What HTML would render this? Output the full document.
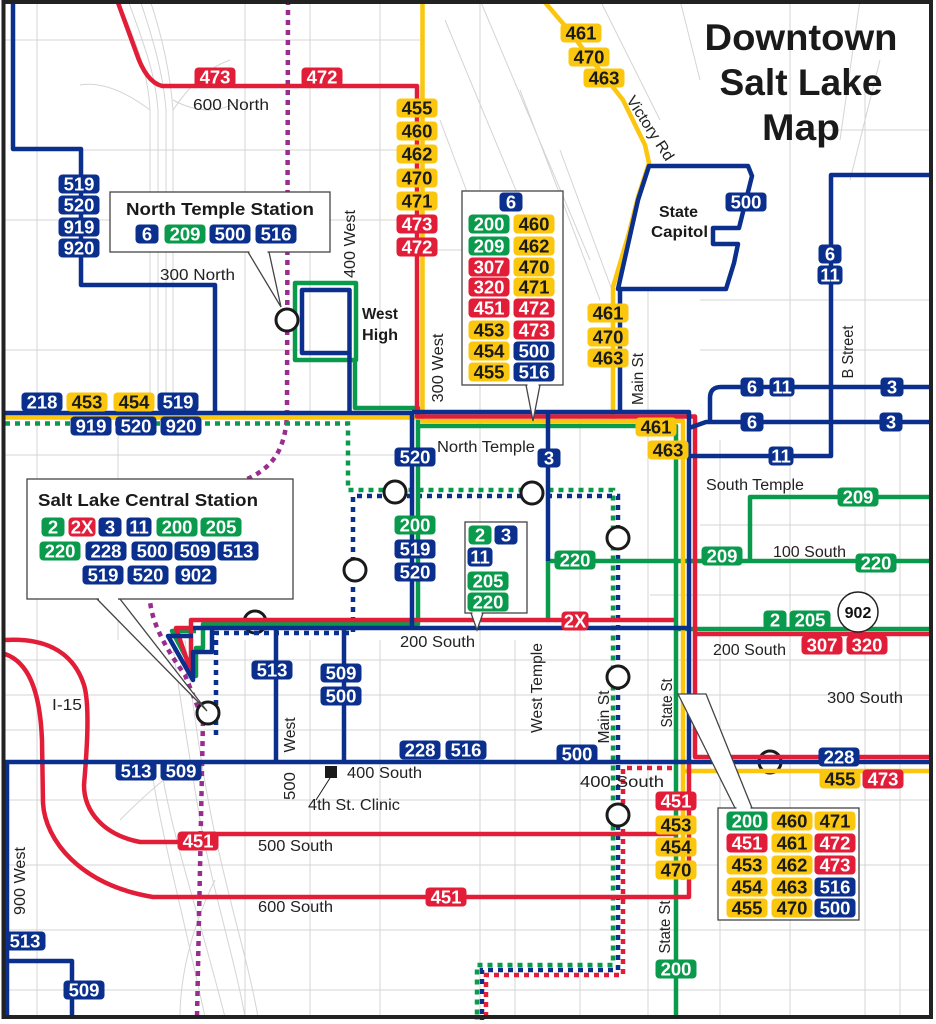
<!DOCTYPE html>
<html><head><meta charset="utf-8"><style>
html,body{margin:0;padding:0;background:#fff}
svg{display:block}
.lb text{font:bold 18.5px "Liberation Sans",sans-serif;text-anchor:middle;fill:#fff}
.B rect{fill:#0b2f8c}.R rect{fill:#e21d38}.G rect{fill:#0a9a4c}.Y rect{fill:#fbc60e}.Y text{fill:#1a1a1a}
.st{font:15.5px "Liberation Sans",sans-serif;fill:#222}
.bd{font-weight:bold;fill:#1a1a1a}
.gr{stroke:#d4d4d4;stroke-width:1;fill:none}
.rt{fill:none;stroke-width:4.5;stroke-linejoin:round}
.bl{stroke:#0b2f8c}.rd{stroke:#e21d38}.ye{stroke:#fbc60e}.gn{stroke:#0a9a4c}
.dt{fill:none;stroke-width:4.5;stroke-dasharray:5 5}
.ci{fill:#fff;stroke:#1a1a1a;stroke-width:3}
.co{fill:#fff;stroke:#444;stroke-width:1.3}
</style></head><body>
<svg width="936" height="1024" viewBox="0 0 936 1024" xmlns="http://www.w3.org/2000/svg">
<rect x="0" y="0" width="936" height="1024" fill="#fff"/>
<!-- street grid -->
<path class="gr" d="M37,0V1017 M118,413V640 M245,0V413 M245,640V1017 M310,0V413 M310,640V1017 M380,0V413 M380,640V1017 M480,0V1017 M515,640V1017 M580,413V1017 M648,290V1017 M720,440V1017 M790,0V1017 M865,90V1017 M900,420V1017
M5,40H420 M81,150H413 M5,220H413 M5,350H300 M5,455H400 M700,525H930 M650,595H930 M5,660H930 M5,695H930 M5,730H930 M5,800H930 M5,865H930 M5,930H930 M5,990H930 M430,250H470 M700,300H930 M700,350H930 M800,130H930"/>
<path class="gr" d="M445,20L520,200 M480,0L590,260 M520,90L600,300 M560,150L612,290 M600,0L660,120 M440,120L470,200 M680,0L700,80 M860,0L840,140 M880,60L850,180"/>
<path class="gr" d="M118,0C135,40 148,70 150,110V413 M128,0C142,40 155,70 158,110V413 M140,0C150,30 163,70 166,110V413 M150,0C160,30 170,70 173,110V413 M173,110Q200,70 230,60 M150,110Q110,80 80,85 M173,100Q210,120 240,100
M172,640C180,700 190,760 200,820C215,900 235,960 245,1017 M185,640C192,700 200,760 212,820C228,900 248,960 258,1017 M160,760C170,830 195,900 225,1017 M150,760C160,830 180,900 205,1017 M215,880C190,930 180,980 180,1017 M120,820Q160,780 190,760"/>
<!-- back circles -->
<circle class="ci" cx="255" cy="622" r="11"/>
<circle class="ci" cx="770" cy="762" r="11"/>
<!-- dotted -->
<path class="dt" stroke="#9b2c8f" d="M288,0L287,415C285,455 268,470 245,480C200,500 150,560 150,600Q152,630 185,675L203,720L197,1017"/>
<path class="dt gn" d="M5,423.5H348V490H613V965H477V1020"/>
<path class="dt bl" d="M216,735V633H353V496H618V970H482V1020"/>
<path class="dt rd" d="M672,768H623V975H486V1020"/>
<!-- green -->
<rect class="rt gn" x="295" y="283" width="61" height="77"/>
<path class="rt gn" d="M355,360V408H418V624H203V648H196V676L172,631H196"/>
<path class="rt gn" d="M418,426H676V1017"/>
<path class="rt gn" d="M548,620V561H930"/>
<path class="rt gn" d="M750,561V497H930"/>
<path class="rt gn" d="M676,629H930"/>
<!-- yellow -->
<path class="rt ye" d="M5,417.5H422"/>
<path class="rt ye" d="M422.5,0V421H683V880"/>
<path class="rt ye" d="M543,0L566,27L623,100L645,145L649,163L638,197L629,233L613,287V421"/>
<path class="rt ye" d="M683,771H930"/>
<!-- red -->
<path class="rt rd" d="M117,0L136,52Q146,82 162,86H417V416.5H695V757H930"/>
<path class="rt rd" d="M695,634H930"/>
<path class="rt rd" d="M674,620H191V672L176,628H191"/>
<path class="rt rd" d="M5,640C40,638 72,648 84,685C90,705 87,750 84,785C84,812 104,835 140,842L200,842"/>
<path class="rt rd" d="M205,834H678"/>
<path class="rt rd" d="M5,654C28,662 40,690 42,740L43,803C45,840 80,885 153,897H689V762"/>
<!-- blue -->
<path class="rt bl" d="M13,0V149H81V285H215V413"/>
<path class="rt bl" d="M5,413H412V628"/>
<path class="rt bl" d="M412,412H689V762"/>
<path class="rt bl" d="M620,412V289"/>
<path class="rt bl" d="M618,289L638,200L649,166H748L752,176L739,228H713V244H738L734,263L726,289Z"/>
<rect class="rt bl" x="302" y="290" width="47.5" height="63"/>
<path class="rt bl" d="M349.5,353V413"/>
<path class="rt bl" d="M548,412V561"/>
<path class="rt bl" d="M193,628H689"/>
<path class="rt bl" d="M212,628V652H193V680L168,636H193"/>
<path class="rt bl" d="M276,628V762M344,628V762"/>
<path class="rt bl" d="M5,762H930"/>
<path class="rt bl" d="M7,762V1017M7,961H72V1017"/>
<path class="rt bl" d="M689,428L706,422H930M710,422V398Q710,387 721,387H930M689,456H831V175H930"/>
<!-- front circles -->
<circle class="ci" cx="287" cy="320" r="11"/>
<circle class="ci" cx="395" cy="492" r="11"/>
<circle class="ci" cx="532" cy="493" r="11"/>
<circle class="ci" cx="355" cy="570" r="11"/>
<circle class="ci" cx="618" cy="538" r="11"/>
<circle class="ci" cx="618" cy="677" r="11"/>
<circle class="ci" cx="208" cy="713" r="11"/>
<circle class="ci" cx="618" cy="815" r="11"/>
<!-- callouts -->
<polygon class="co" points="248,252 281,307 269,252"/>
<rect class="co" x="110" y="192" width="220" height="60"/>
<line x1="249.5" y1="252" x2="267.5" y2="252" stroke="#fff" stroke-width="2.5"/>
<polygon class="co" points="97,599 207,711 120,599"/>
<rect class="co" x="27" y="479" width="266" height="120"/>
<line x1="99" y1="599" x2="118" y2="599" stroke="#fff" stroke-width="2.5"/>
<polygon class="co" points="526,385 533,421 540,385"/>
<rect class="co" x="462" y="191" width="101" height="194"/>
<line x1="527.5" y1="385" x2="538.5" y2="385" stroke="#fff" stroke-width="2.5"/>
<polygon class="co" points="471,613 477,630 483,613"/>
<rect class="co" x="465" y="522" width="62" height="91"/>
<line x1="472.5" y1="613" x2="481.5" y2="613" stroke="#fff" stroke-width="2.5"/>
<polygon class="co" points="678,694 706,694 752,808 735,808"/>
<rect class="co" x="718" y="808" width="141" height="112"/>
<line x1="736.5" y1="808" x2="750.5" y2="808" stroke="#fff" stroke-width="2.5"/>
<circle cx="858" cy="612" r="20" fill="#fff" stroke="#222" stroke-width="1.5"/>
<text x="858" y="618" text-anchor="middle" style="font:bold 16px 'Liberation Sans',sans-serif;fill:#111">902</text>
<!-- labels -->
<g class="lb R" transform="translate(215 77)"><rect x="-20.5" y="-9.5" width="41" height="19" rx="4"/><text y="6.5">473</text></g>
<g class="lb R" transform="translate(322 77)"><rect x="-20.5" y="-9.5" width="41" height="19" rx="4"/><text y="6.5">472</text></g>
<g class="lb Y" transform="translate(417 108)"><rect x="-20.5" y="-9.5" width="41" height="19" rx="4"/><text y="6.5">455</text></g>
<g class="lb Y" transform="translate(417 131)"><rect x="-20.5" y="-9.5" width="41" height="19" rx="4"/><text y="6.5">460</text></g>
<g class="lb Y" transform="translate(417 154)"><rect x="-20.5" y="-9.5" width="41" height="19" rx="4"/><text y="6.5">462</text></g>
<g class="lb Y" transform="translate(417 178)"><rect x="-20.5" y="-9.5" width="41" height="19" rx="4"/><text y="6.5">470</text></g>
<g class="lb Y" transform="translate(417 201)"><rect x="-20.5" y="-9.5" width="41" height="19" rx="4"/><text y="6.5">471</text></g>
<g class="lb R" transform="translate(417 224)"><rect x="-20.5" y="-9.5" width="41" height="19" rx="4"/><text y="6.5">473</text></g>
<g class="lb R" transform="translate(417 247)"><rect x="-20.5" y="-9.5" width="41" height="19" rx="4"/><text y="6.5">472</text></g>
<g class="lb B" transform="translate(79 184)"><rect x="-20.5" y="-9.5" width="41" height="19" rx="4"/><text y="6.5">519</text></g>
<g class="lb B" transform="translate(79 205)"><rect x="-20.5" y="-9.5" width="41" height="19" rx="4"/><text y="6.5">520</text></g>
<g class="lb B" transform="translate(79 227)"><rect x="-20.5" y="-9.5" width="41" height="19" rx="4"/><text y="6.5">919</text></g>
<g class="lb B" transform="translate(79 248)"><rect x="-20.5" y="-9.5" width="41" height="19" rx="4"/><text y="6.5">920</text></g>
<g class="lb Y" transform="translate(581 33)"><rect x="-20.5" y="-9.5" width="41" height="19" rx="4"/><text y="6.5">461</text></g>
<g class="lb Y" transform="translate(589 57)"><rect x="-20.5" y="-9.5" width="41" height="19" rx="4"/><text y="6.5">470</text></g>
<g class="lb Y" transform="translate(604 78)"><rect x="-20.5" y="-9.5" width="41" height="19" rx="4"/><text y="6.5">463</text></g>
<g class="lb B" transform="translate(746 202)"><rect x="-20.5" y="-9.5" width="41" height="19" rx="4"/><text y="6.5">500</text></g>
<g class="lb B" transform="translate(830 254)"><rect x="-11.5" y="-9.5" width="23" height="19" rx="4"/><text y="6.5">6</text></g>
<g class="lb B" transform="translate(830 275)"><rect x="-12.5" y="-9.5" width="25" height="19" rx="4"/><text y="6.5">11</text></g>
<g class="lb Y" transform="translate(608 313)"><rect x="-20.5" y="-9.5" width="41" height="19" rx="4"/><text y="6.5">461</text></g>
<g class="lb Y" transform="translate(608 337)"><rect x="-20.5" y="-9.5" width="41" height="19" rx="4"/><text y="6.5">470</text></g>
<g class="lb Y" transform="translate(608 358)"><rect x="-20.5" y="-9.5" width="41" height="19" rx="4"/><text y="6.5">463</text></g>
<g class="lb B" transform="translate(42 402)"><rect x="-20.5" y="-9.5" width="41" height="19" rx="4"/><text y="6.5">218</text></g>
<g class="lb Y" transform="translate(87 402)"><rect x="-20.5" y="-9.5" width="41" height="19" rx="4"/><text y="6.5">453</text></g>
<g class="lb Y" transform="translate(134 402)"><rect x="-20.5" y="-9.5" width="41" height="19" rx="4"/><text y="6.5">454</text></g>
<g class="lb B" transform="translate(178 402)"><rect x="-20.5" y="-9.5" width="41" height="19" rx="4"/><text y="6.5">519</text></g>
<g class="lb B" transform="translate(91 426)"><rect x="-20.5" y="-9.5" width="41" height="19" rx="4"/><text y="6.5">919</text></g>
<g class="lb B" transform="translate(136 426)"><rect x="-20.5" y="-9.5" width="41" height="19" rx="4"/><text y="6.5">520</text></g>
<g class="lb B" transform="translate(181 426)"><rect x="-20.5" y="-9.5" width="41" height="19" rx="4"/><text y="6.5">920</text></g>
<g class="lb B" transform="translate(752 387)"><rect x="-11.5" y="-9.5" width="23" height="19" rx="4"/><text y="6.5">6</text></g>
<g class="lb B" transform="translate(782 387)"><rect x="-12.5" y="-9.5" width="25" height="19" rx="4"/><text y="6.5">11</text></g>
<g class="lb B" transform="translate(892 387)"><rect x="-11.5" y="-9.5" width="23" height="19" rx="4"/><text y="6.5">3</text></g>
<g class="lb B" transform="translate(752 422)"><rect x="-11.5" y="-9.5" width="23" height="19" rx="4"/><text y="6.5">6</text></g>
<g class="lb B" transform="translate(891 422)"><rect x="-11.5" y="-9.5" width="23" height="19" rx="4"/><text y="6.5">3</text></g>
<g class="lb Y" transform="translate(656 427)"><rect x="-20.5" y="-9.5" width="41" height="19" rx="4"/><text y="6.5">461</text></g>
<g class="lb Y" transform="translate(668 450)"><rect x="-20.5" y="-9.5" width="41" height="19" rx="4"/><text y="6.5">463</text></g>
<g class="lb B" transform="translate(781 456)"><rect x="-12.5" y="-9.5" width="25" height="19" rx="4"/><text y="6.5">11</text></g>
<g class="lb B" transform="translate(147 234)"><rect x="-11.5" y="-9.5" width="23" height="19" rx="4"/><text y="6.5">6</text></g>
<g class="lb G" transform="translate(185 234)"><rect x="-20.5" y="-9.5" width="41" height="19" rx="4"/><text y="6.5">209</text></g>
<g class="lb B" transform="translate(230 234)"><rect x="-20.5" y="-9.5" width="41" height="19" rx="4"/><text y="6.5">500</text></g>
<g class="lb B" transform="translate(276 234)"><rect x="-20.5" y="-9.5" width="41" height="19" rx="4"/><text y="6.5">516</text></g>
<g class="lb B" transform="translate(511 202)"><rect x="-11.5" y="-9.5" width="23" height="19" rx="4"/><text y="6.5">6</text></g>
<g class="lb G" transform="translate(489 224)"><rect x="-20.5" y="-9.5" width="41" height="19" rx="4"/><text y="6.5">200</text></g>
<g class="lb G" transform="translate(489 246)"><rect x="-20.5" y="-9.5" width="41" height="19" rx="4"/><text y="6.5">209</text></g>
<g class="lb R" transform="translate(489 267)"><rect x="-20.5" y="-9.5" width="41" height="19" rx="4"/><text y="6.5">307</text></g>
<g class="lb R" transform="translate(489 287)"><rect x="-20.5" y="-9.5" width="41" height="19" rx="4"/><text y="6.5">320</text></g>
<g class="lb R" transform="translate(489 308)"><rect x="-20.5" y="-9.5" width="41" height="19" rx="4"/><text y="6.5">451</text></g>
<g class="lb Y" transform="translate(489 330)"><rect x="-20.5" y="-9.5" width="41" height="19" rx="4"/><text y="6.5">453</text></g>
<g class="lb Y" transform="translate(489 351)"><rect x="-20.5" y="-9.5" width="41" height="19" rx="4"/><text y="6.5">454</text></g>
<g class="lb Y" transform="translate(489 372)"><rect x="-20.5" y="-9.5" width="41" height="19" rx="4"/><text y="6.5">455</text></g>
<g class="lb Y" transform="translate(534 224)"><rect x="-20.5" y="-9.5" width="41" height="19" rx="4"/><text y="6.5">460</text></g>
<g class="lb Y" transform="translate(534 246)"><rect x="-20.5" y="-9.5" width="41" height="19" rx="4"/><text y="6.5">462</text></g>
<g class="lb Y" transform="translate(534 267)"><rect x="-20.5" y="-9.5" width="41" height="19" rx="4"/><text y="6.5">470</text></g>
<g class="lb Y" transform="translate(534 287)"><rect x="-20.5" y="-9.5" width="41" height="19" rx="4"/><text y="6.5">471</text></g>
<g class="lb R" transform="translate(534 308)"><rect x="-20.5" y="-9.5" width="41" height="19" rx="4"/><text y="6.5">472</text></g>
<g class="lb R" transform="translate(534 330)"><rect x="-20.5" y="-9.5" width="41" height="19" rx="4"/><text y="6.5">473</text></g>
<g class="lb B" transform="translate(534 351)"><rect x="-20.5" y="-9.5" width="41" height="19" rx="4"/><text y="6.5">500</text></g>
<g class="lb B" transform="translate(534 372)"><rect x="-20.5" y="-9.5" width="41" height="19" rx="4"/><text y="6.5">516</text></g>
<g class="lb B" transform="translate(415 457)"><rect x="-20.5" y="-9.5" width="41" height="19" rx="4"/><text y="6.5">520</text></g>
<g class="lb B" transform="translate(549 458)"><rect x="-11.5" y="-9.5" width="23" height="19" rx="4"/><text y="6.5">3</text></g>
<g class="lb G" transform="translate(415 525)"><rect x="-20.5" y="-9.5" width="41" height="19" rx="4"/><text y="6.5">200</text></g>
<g class="lb B" transform="translate(415 549)"><rect x="-20.5" y="-9.5" width="41" height="19" rx="4"/><text y="6.5">519</text></g>
<g class="lb B" transform="translate(415 572)"><rect x="-20.5" y="-9.5" width="41" height="19" rx="4"/><text y="6.5">520</text></g>
<g class="lb G" transform="translate(858 497)"><rect x="-20.5" y="-9.5" width="41" height="19" rx="4"/><text y="6.5">209</text></g>
<g class="lb G" transform="translate(575 560)"><rect x="-20.5" y="-9.5" width="41" height="19" rx="4"/><text y="6.5">220</text></g>
<g class="lb G" transform="translate(722 556)"><rect x="-20.5" y="-9.5" width="41" height="19" rx="4"/><text y="6.5">209</text></g>
<g class="lb G" transform="translate(876 563)"><rect x="-20.5" y="-9.5" width="41" height="19" rx="4"/><text y="6.5">220</text></g>
<g class="lb G" transform="translate(53 527)"><rect x="-11.5" y="-9.5" width="23" height="19" rx="4"/><text y="6.5">2</text></g>
<g class="lb R" transform="translate(82 527)"><rect x="-13.5" y="-9.5" width="27" height="19" rx="4"/><text y="6.5">2X</text></g>
<g class="lb B" transform="translate(110 527)"><rect x="-11.5" y="-9.5" width="23" height="19" rx="4"/><text y="6.5">3</text></g>
<g class="lb B" transform="translate(139 527)"><rect x="-12.5" y="-9.5" width="25" height="19" rx="4"/><text y="6.5">11</text></g>
<g class="lb G" transform="translate(177 527)"><rect x="-20.5" y="-9.5" width="41" height="19" rx="4"/><text y="6.5">200</text></g>
<g class="lb G" transform="translate(221 527)"><rect x="-20.5" y="-9.5" width="41" height="19" rx="4"/><text y="6.5">205</text></g>
<g class="lb G" transform="translate(60 551)"><rect x="-20.5" y="-9.5" width="41" height="19" rx="4"/><text y="6.5">220</text></g>
<g class="lb B" transform="translate(106 551)"><rect x="-20.5" y="-9.5" width="41" height="19" rx="4"/><text y="6.5">228</text></g>
<g class="lb B" transform="translate(152 551)"><rect x="-20.5" y="-9.5" width="41" height="19" rx="4"/><text y="6.5">500</text></g>
<g class="lb B" transform="translate(195 551)"><rect x="-20.5" y="-9.5" width="41" height="19" rx="4"/><text y="6.5">509</text></g>
<g class="lb B" transform="translate(238 551)"><rect x="-20.5" y="-9.5" width="41" height="19" rx="4"/><text y="6.5">513</text></g>
<g class="lb B" transform="translate(103 575)"><rect x="-20.5" y="-9.5" width="41" height="19" rx="4"/><text y="6.5">519</text></g>
<g class="lb B" transform="translate(148 575)"><rect x="-20.5" y="-9.5" width="41" height="19" rx="4"/><text y="6.5">520</text></g>
<g class="lb B" transform="translate(196 575)"><rect x="-20.5" y="-9.5" width="41" height="19" rx="4"/><text y="6.5">902</text></g>
<g class="lb G" transform="translate(480 535)"><rect x="-11.5" y="-9.5" width="23" height="19" rx="4"/><text y="6.5">2</text></g>
<g class="lb B" transform="translate(506 535)"><rect x="-11.5" y="-9.5" width="23" height="19" rx="4"/><text y="6.5">3</text></g>
<g class="lb B" transform="translate(480 557)"><rect x="-12.5" y="-9.5" width="25" height="19" rx="4"/><text y="6.5">11</text></g>
<g class="lb G" transform="translate(488 581)"><rect x="-20.5" y="-9.5" width="41" height="19" rx="4"/><text y="6.5">205</text></g>
<g class="lb G" transform="translate(488 602)"><rect x="-20.5" y="-9.5" width="41" height="19" rx="4"/><text y="6.5">220</text></g>
<g class="lb R" transform="translate(575 621)"><rect x="-13.5" y="-9.5" width="27" height="19" rx="4"/><text y="6.5">2X</text></g>
<g class="lb G" transform="translate(775 620)"><rect x="-11.5" y="-9.5" width="23" height="19" rx="4"/><text y="6.5">2</text></g>
<g class="lb G" transform="translate(810 620)"><rect x="-20.5" y="-9.5" width="41" height="19" rx="4"/><text y="6.5">205</text></g>
<g class="lb R" transform="translate(822 645)"><rect x="-20.5" y="-9.5" width="41" height="19" rx="4"/><text y="6.5">307</text></g>
<g class="lb R" transform="translate(867 645)"><rect x="-20.5" y="-9.5" width="41" height="19" rx="4"/><text y="6.5">320</text></g>
<g class="lb B" transform="translate(272 670)"><rect x="-20.5" y="-9.5" width="41" height="19" rx="4"/><text y="6.5">513</text></g>
<g class="lb B" transform="translate(341 673)"><rect x="-20.5" y="-9.5" width="41" height="19" rx="4"/><text y="6.5">509</text></g>
<g class="lb B" transform="translate(341 696)"><rect x="-20.5" y="-9.5" width="41" height="19" rx="4"/><text y="6.5">500</text></g>
<g class="lb B" transform="translate(420 750)"><rect x="-20.5" y="-9.5" width="41" height="19" rx="4"/><text y="6.5">228</text></g>
<g class="lb B" transform="translate(466 750)"><rect x="-20.5" y="-9.5" width="41" height="19" rx="4"/><text y="6.5">516</text></g>
<g class="lb B" transform="translate(577 754)"><rect x="-20.5" y="-9.5" width="41" height="19" rx="4"/><text y="6.5">500</text></g>
<g class="lb B" transform="translate(136 771)"><rect x="-20.5" y="-9.5" width="41" height="19" rx="4"/><text y="6.5">513</text></g>
<g class="lb B" transform="translate(181 771)"><rect x="-20.5" y="-9.5" width="41" height="19" rx="4"/><text y="6.5">509</text></g>
<g class="lb B" transform="translate(839 757)"><rect x="-20.5" y="-9.5" width="41" height="19" rx="4"/><text y="6.5">228</text></g>
<g class="lb Y" transform="translate(840 779)"><rect x="-20.5" y="-9.5" width="41" height="19" rx="4"/><text y="6.5">455</text></g>
<g class="lb R" transform="translate(883 779)"><rect x="-20.5" y="-9.5" width="41" height="19" rx="4"/><text y="6.5">473</text></g>
<g class="lb R" transform="translate(198 841)"><rect x="-20.5" y="-9.5" width="41" height="19" rx="4"/><text y="6.5">451</text></g>
<g class="lb R" transform="translate(446 897)"><rect x="-20.5" y="-9.5" width="41" height="19" rx="4"/><text y="6.5">451</text></g>
<g class="lb R" transform="translate(676 801)"><rect x="-20.5" y="-9.5" width="41" height="19" rx="4"/><text y="6.5">451</text></g>
<g class="lb Y" transform="translate(676 825)"><rect x="-20.5" y="-9.5" width="41" height="19" rx="4"/><text y="6.5">453</text></g>
<g class="lb Y" transform="translate(676 847)"><rect x="-20.5" y="-9.5" width="41" height="19" rx="4"/><text y="6.5">454</text></g>
<g class="lb Y" transform="translate(676 870)"><rect x="-20.5" y="-9.5" width="41" height="19" rx="4"/><text y="6.5">470</text></g>
<g class="lb G" transform="translate(676 969)"><rect x="-20.5" y="-9.5" width="41" height="19" rx="4"/><text y="6.5">200</text></g>
<g class="lb B" transform="translate(25 941)"><rect x="-20.5" y="-9.5" width="41" height="19" rx="4"/><text y="6.5">513</text></g>
<g class="lb B" transform="translate(84 990)"><rect x="-20.5" y="-9.5" width="41" height="19" rx="4"/><text y="6.5">509</text></g>
<g class="lb G" transform="translate(747 821)"><rect x="-20.5" y="-9.5" width="41" height="19" rx="4"/><text y="6.5">200</text></g>
<g class="lb Y" transform="translate(792 821)"><rect x="-20.5" y="-9.5" width="41" height="19" rx="4"/><text y="6.5">460</text></g>
<g class="lb Y" transform="translate(835 821)"><rect x="-20.5" y="-9.5" width="41" height="19" rx="4"/><text y="6.5">471</text></g>
<g class="lb R" transform="translate(747 843)"><rect x="-20.5" y="-9.5" width="41" height="19" rx="4"/><text y="6.5">451</text></g>
<g class="lb Y" transform="translate(792 843)"><rect x="-20.5" y="-9.5" width="41" height="19" rx="4"/><text y="6.5">461</text></g>
<g class="lb R" transform="translate(835 843)"><rect x="-20.5" y="-9.5" width="41" height="19" rx="4"/><text y="6.5">472</text></g>
<g class="lb Y" transform="translate(747 865)"><rect x="-20.5" y="-9.5" width="41" height="19" rx="4"/><text y="6.5">453</text></g>
<g class="lb Y" transform="translate(792 865)"><rect x="-20.5" y="-9.5" width="41" height="19" rx="4"/><text y="6.5">462</text></g>
<g class="lb R" transform="translate(835 865)"><rect x="-20.5" y="-9.5" width="41" height="19" rx="4"/><text y="6.5">473</text></g>
<g class="lb Y" transform="translate(747 887)"><rect x="-20.5" y="-9.5" width="41" height="19" rx="4"/><text y="6.5">454</text></g>
<g class="lb Y" transform="translate(792 887)"><rect x="-20.5" y="-9.5" width="41" height="19" rx="4"/><text y="6.5">463</text></g>
<g class="lb B" transform="translate(835 887)"><rect x="-20.5" y="-9.5" width="41" height="19" rx="4"/><text y="6.5">516</text></g>
<g class="lb Y" transform="translate(747 908)"><rect x="-20.5" y="-9.5" width="41" height="19" rx="4"/><text y="6.5">455</text></g>
<g class="lb Y" transform="translate(792 908)"><rect x="-20.5" y="-9.5" width="41" height="19" rx="4"/><text y="6.5">470</text></g>
<g class="lb B" transform="translate(835 908)"><rect x="-20.5" y="-9.5" width="41" height="19" rx="4"/><text y="6.5">500</text></g>
<!-- clinic marker -->
<rect x="325" y="766" width="12" height="12" fill="#1a1a1a"/>
<line x1="330" y1="778" x2="316" y2="800" stroke="#1a1a1a" stroke-width="1"/>
<!-- street text -->
<text class="st" x="193" y="110" textLength="76" lengthAdjust="spacingAndGlyphs">600 North</text>
<text class="st" x="160" y="280" textLength="75" lengthAdjust="spacingAndGlyphs">300 North</text>
<text class="st" text-anchor="middle" transform="translate(355 244) rotate(-90)" textLength="68" lengthAdjust="spacingAndGlyphs">400 West</text>
<text class="st" text-anchor="middle" transform="translate(443 368) rotate(-90)" textLength="69" lengthAdjust="spacingAndGlyphs">300 West</text>
<text class="st" x="437" y="452" textLength="98" lengthAdjust="spacingAndGlyphs">North Temple</text>
<text class="st" text-anchor="middle" transform="translate(643 379) rotate(-90)" textLength="52" lengthAdjust="spacingAndGlyphs">Main St</text>
<text class="st" text-anchor="middle" transform="translate(853 352) rotate(-90)" textLength="53" lengthAdjust="spacingAndGlyphs">B Street</text>
<text class="st" text-anchor="middle" transform="translate(646 131) rotate(57)" textLength="74" lengthAdjust="spacingAndGlyphs">Victory Rd</text>
<text class="st" x="706" y="490" textLength="98" lengthAdjust="spacingAndGlyphs">South Temple</text>
<text class="st" x="773" y="557" textLength="73" lengthAdjust="spacingAndGlyphs">100 South</text>
<text class="st" x="400" y="647" textLength="75" lengthAdjust="spacingAndGlyphs">200 South</text>
<text class="st" x="713" y="655" textLength="73" lengthAdjust="spacingAndGlyphs">200 South</text>
<text class="st" x="827" y="703" textLength="76" lengthAdjust="spacingAndGlyphs">300 South</text>
<text class="st" text-anchor="middle" transform="translate(542 688) rotate(-90)" textLength="90" lengthAdjust="spacingAndGlyphs">West Temple</text>
<text class="st" text-anchor="middle" transform="translate(609 717) rotate(-90)" textLength="53" lengthAdjust="spacingAndGlyphs">Main St</text>
<text class="st" text-anchor="middle" transform="translate(672 703) rotate(-90)" textLength="49" lengthAdjust="spacingAndGlyphs">State St</text>
<text class="st" text-anchor="middle" transform="translate(670 927) rotate(-90)" textLength="53" lengthAdjust="spacingAndGlyphs">State St</text>
<text class="st" x="347" y="778" textLength="75" lengthAdjust="spacingAndGlyphs">400 South</text>
<text class="st" x="580" y="787" textLength="84" lengthAdjust="spacingAndGlyphs">400 South</text>
<text class="st" x="308" y="810" textLength="92" lengthAdjust="spacingAndGlyphs">4th St. Clinic</text>
<text class="st" x="258" y="851" textLength="75" lengthAdjust="spacingAndGlyphs">500 South</text>
<text class="st" x="258" y="912" textLength="75" lengthAdjust="spacingAndGlyphs">600 South</text>
<text class="st" x="52" y="710" textLength="30" lengthAdjust="spacingAndGlyphs">I-15</text>
<text class="st" text-anchor="middle" transform="translate(25 881) rotate(-90)" textLength="68" lengthAdjust="spacingAndGlyphs">900 West</text>
<text class="st" text-anchor="middle" transform="translate(295 735) rotate(-90)" textLength="35" lengthAdjust="spacingAndGlyphs">West</text>
<text class="st" text-anchor="middle" transform="translate(295 786) rotate(-90)" textLength="28" lengthAdjust="spacingAndGlyphs">500</text>
<!-- bold texts -->
<text class="st bd" x="220" y="215" text-anchor="middle" style="font-size:17.5px" textLength="188" lengthAdjust="spacingAndGlyphs">North Temple Station</text>
<text class="st bd" x="38" y="506" style="font-size:17.5px" textLength="220" lengthAdjust="spacingAndGlyphs">Salt Lake Central Station</text>
<text class="st bd" x="362" y="319" textLength="36" lengthAdjust="spacingAndGlyphs">West</text>
<text class="st bd" x="362" y="340" textLength="36" lengthAdjust="spacingAndGlyphs">High</text>
<text class="st bd" x="659" y="217" textLength="39" lengthAdjust="spacingAndGlyphs">State</text>
<text class="st bd" x="651" y="237" textLength="57" lengthAdjust="spacingAndGlyphs">Capitol</text>
<text class="bd" x="801" y="50" text-anchor="middle" style="font:bold 37px 'Liberation Sans',sans-serif" textLength="193" lengthAdjust="spacingAndGlyphs">Downtown</text>
<text class="bd" x="801" y="95" text-anchor="middle" style="font:bold 37px 'Liberation Sans',sans-serif" textLength="163" lengthAdjust="spacingAndGlyphs">Salt Lake</text>
<text class="bd" x="801" y="140" text-anchor="middle" style="font:bold 37px 'Liberation Sans',sans-serif" textLength="78" lengthAdjust="spacingAndGlyphs">Map</text>
<!-- frame -->
<rect x="3.5" y="2" width="927.5" height="1015" fill="none" stroke="#222" stroke-width="4"/>
</svg>
</body></html>
